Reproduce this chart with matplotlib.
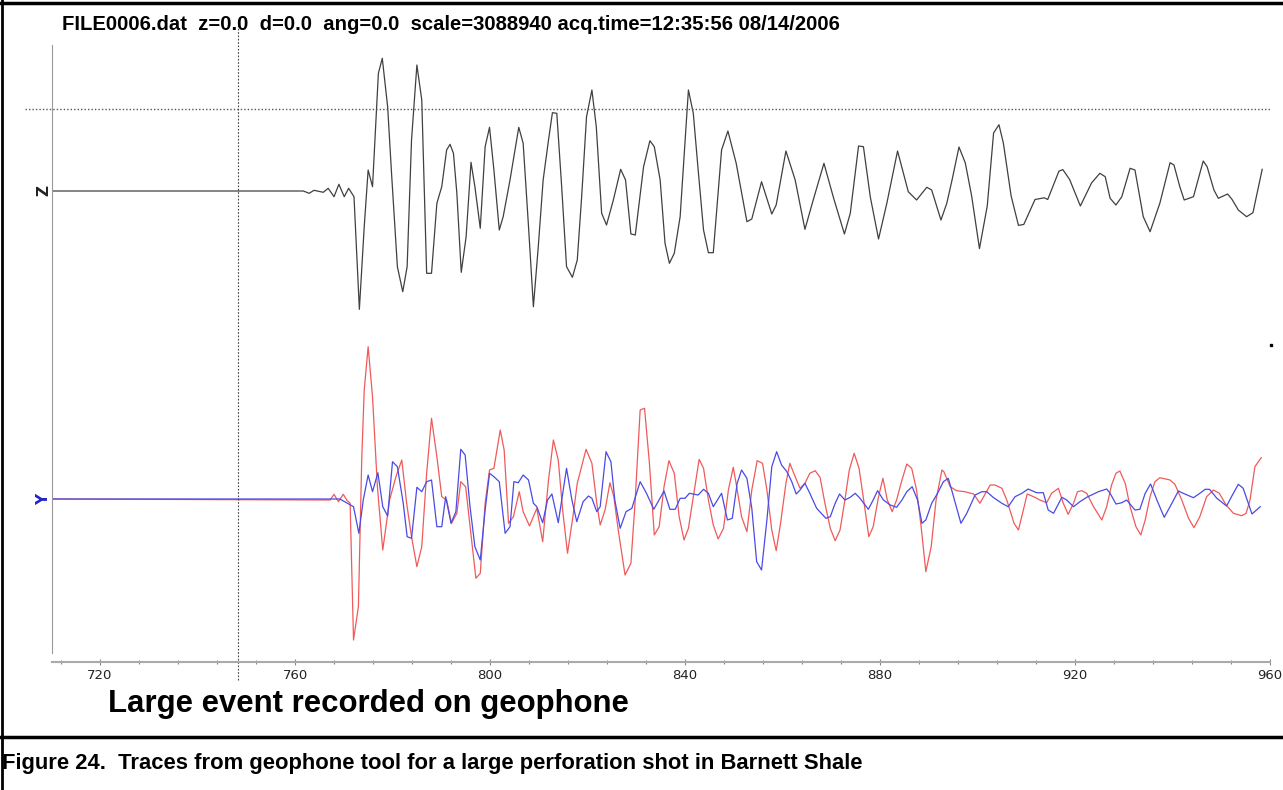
import matplotlib
matplotlib.use('Agg')
import matplotlib.pyplot as plt
from matplotlib.lines import Line2D
from matplotlib.ticker import MultipleLocator

# 读取自图片的道数据 (时间, 振幅)
z_t = [710.2, 761.7, 762.9, 763.9, 765.8, 766.8, 768.0, 769.0, 770.1, 771.0, 772.1, 773.2, 774.2, 775.0, 775.9,
       777.1, 777.9, 779.0, 779.8, 781.0, 782.1, 783.0, 783.9, 785.0, 786.0, 787.0, 788.0, 789.1, 790.1, 791.1,
       791.8, 792.5, 793.2, 794.1, 795.1, 796.1, 796.9, 798.0, 799.0, 799.9, 800.8, 801.9, 802.7, 804.1, 805.9,
       806.8, 807.9, 808.9, 809.9, 810.9, 812.0, 812.8, 813.7, 814.7, 815.7, 816.9, 817.9, 818.8, 819.8, 820.9,
       821.8, 822.9, 823.9, 825.3, 826.8, 827.8, 828.9, 829.8, 831.5, 832.8, 833.7, 834.9, 835.9, 836.8, 837.8,
       839.0, 840.7, 841.7, 842.7, 843.8, 844.8, 845.8, 847.5, 848.8, 850.5, 852.7, 853.7, 855.7, 857.8, 858.7,
       860.7, 862.6, 864.6, 866.3, 868.5, 870.4, 872.7, 873.9, 875.6, 876.6, 878.0, 879.7, 881.4, 883.6, 885.8,
       887.5, 889.6, 890.6, 892.5, 893.7, 894.8, 896.2, 897.5, 898.8, 900.4, 902.0, 903.3, 904.4, 905.3, 906.9,
       908.4, 909.5, 911.8, 913.7, 914.4, 916.7, 917.5, 918.9, 921.1, 923.4, 925.1, 926.2, 927.2, 928.4, 929.6,
       931.3, 932.3, 934.0, 935.4, 937.4, 939.5, 940.3, 941.5, 942.4, 944.3, 946.3, 947.1, 948.5, 949.4, 951.3,
       952.2, 953.5, 955.2, 956.5, 958.4]
z_amp = [0, 0, -2.3, 0.7, -1.3, 2.7, -5.7, 6.7, -5.7, 2.7, -5.7, -118.3, -35.7, 21, 4.3,
         117.7, 132.7, 84.3, 17.7, -75.7, -100.7, -75.7, 51, 126, 91, -82.3, -82.3, -12.3, 4.3, 41,
         46.7, 37.7, -2.3, -81.3, -45.7, 28.7, 4.3, -37.3, 44.3, 63.7, 21, -39, -25.7, 11, 63.7,
         47.7, -35.7, -115.7, -55.7, 11, 51, 78.3, 77.7, 4.3, -75.7, -86.3, -69, -5.7, 74.3, 101,
         64.3, -22.3, -34, -9, 21.7, 11, -43, -44, 24.3, 50.3, 44.3, 11, -52.3, -72.3, -62.3,
         -25.7, 101, 77.7, 21, -39, -61.7, -61.7, 41, 60, 27.7, -30.7, -28, 9.3, -23, -14,
         40, 11, -38.3, -9, 27.7, -5.7, -43, -22.3, 45, 44.3, -5.7, -48, -12.3, 40, -0.7,
         -9, 3.7, 1, -29, -12.3, 11.5, 44, 28, -5, -57.6, -15, 58, 66.3, 48, -5,
         -34.4, -33.4, -8.5, -6.8, -8.5, 19.8, 21.4, 11.5, -15, 8.1, 17.7, 14.3, -7.3, -14, -5.7,
         22.7, 21, -25.7, -40.7, -12.3, 28.3, 26, 4.3, -9, -5.7, 30, 24.3, 1, -7.3, -3,
         -8.3, -19, -25.7, -21.7, 21.7]

x_t = [710.2, 767.2, 768.0, 768.9, 769.9, 770.7, 771.3, 772.0, 773.0, 773.7, 774.2, 775.0, 775.9, 776.9, 778.0,
       779.4, 780.7, 781.9, 782.9, 783.9, 785.0, 786.0, 787.0, 788.0, 789.1, 790.1, 791.1, 792.1, 793.2, 794.0,
       795.0, 796.3, 797.1, 798.0, 799.0, 799.9, 800.8, 802.1, 802.9, 803.8, 804.8, 806.0, 806.8, 808.1, 809.6,
       810.8, 812.0, 813.0, 814.0, 814.9, 815.9, 817.0, 817.9, 819.7, 820.9, 821.9, 822.6, 823.6, 824.6, 825.4,
       826.3, 827.7, 828.9, 829.7, 830.8, 831.7, 832.7, 833.7, 834.7, 835.7, 836.7, 837.8, 838.8, 839.8, 840.7,
       841.7, 842.9, 843.8, 844.8, 845.8, 846.8, 847.9, 848.9, 849.9, 850.6, 851.6, 852.7, 853.7, 854.8, 855.9,
       856.8, 857.8, 858.7, 859.6, 860.7, 861.5, 862.6, 863.6, 864.6, 865.6, 866.7, 867.7, 868.7, 869.8, 870.8,
       871.8, 872.8, 873.7, 874.7, 875.7, 876.7, 877.7, 878.6, 879.7, 880.6, 881.5, 882.5, 883.4, 884.5, 885.5,
       886.5, 887.5, 888.4, 889.4, 890.5, 891.5, 892.7, 893.1, 894.4, 895.7, 897.4, 899.2, 900.5, 902.6, 903.6,
       905.0, 906.0, 907.5, 908.4, 909.4, 910.2, 911.5, 912.8, 914.2, 915.2, 916.6, 917.6, 918.6, 919.7, 920.5,
       921.4, 922.4, 923.8, 925.5, 926.5, 927.5, 928.4, 929.2, 930.3, 931.3, 932.5, 933.5, 934.4, 935.4, 936.4,
       937.4, 939.5, 940.5, 941.9, 943.3, 944.4, 945.6, 947.0, 948.4, 949.6, 951.0, 952.5, 954.2, 955.1, 955.9,
       956.9, 958.2]
x_amp = [0, -1, 4.7, -2.7, 4.7, -1.7, -4, -141, -107.7, 42.3, 109, 152.3, 102.3, 12.3, -51,
         -1, 22.3, 39, -4.3, -37.7, -67.7, -47.7, 25.7, 80.7, 42.3, 2.3, -1, -24.3, -14.3, 17.3,
         12.3, -44.3, -79.3, -74.3, -4.3, 29, 30.7, 69, 49, -24.3, -17.7, 7.3, -12.7, -27, -9.3,
         -42.7, 19, 59, 39, -11, -54.3, -17.7, 15.7, 49.7, 35.7, -4.3, -26, -11, 16.3, 2.3,
         -31, -76, -64.3, -7.7, 89, 90.7, 35.7, -36, -27.7, 12.3, 38.3, 25.7, -17.7, -41, -29.3,
         2.3, 39.7, 30.7, -1, -26, -40, -29.3, 9, 31.7, 12.3, -17.7, -32.7, 9, 38.3, 35.7,
         9, -31, -51.7, -24.3, 15.7, 35.7, 22.3, 10.7, 15.7, 25.7, 28.3, 21.7, -4.3, -29.3, -41.7,
         -31, -1, 29, 45.7, 30.7, -2.7, -37.7, -27.7, 2.3, 20.7, -1, -12.7, -1, 19, 35,
         30.7, 9, -26, -72.7, -47.7, -1, 29, 27.3, 12.3, 8.3, 7.3, 5, -4.3, 14, 14,
         10.7, -1, -24.3, -31, -11, 5, 2.3, -1, -3.7, 5.7, 10.7, -4.3, -15.3, -4.3, 7.3,
         8.3, 5.7, -7.7, -21, -7.7, 14, 25.7, 28, 15.7, -7.7, -27.7, -36, -21, 2.3, 17.3,
         21.3, 19, 14.7, -1, -19.3, -28.7, -17.7, 2.3, 9, 5.7, -6, -14.3, -16.7, -14.3, -1,
         32.3, 41.3]

y_t = [710.2, 769.2, 772.0, 773.1, 774.0, 775.0, 775.9, 777.0, 778.0, 779.0, 780.0, 781.0, 782.2, 783.0, 783.9,
       785.0, 786.0, 787.0, 788.0, 789.1, 790.1, 790.9, 792.0, 793.0, 794.0, 794.9, 795.9, 796.9, 798.0, 799.0,
       799.9, 800.8, 801.9, 803.1, 804.1, 804.9, 805.8, 806.8, 807.9, 808.9, 809.6, 810.8, 811.8, 812.7, 814.0,
       815.7, 816.8, 817.8, 819.1, 820.2, 820.9, 821.9, 822.6, 823.8, 824.8, 825.6, 826.7, 827.9, 829.1, 830.8,
       832.1, 833.6, 835.7, 836.9, 838.0, 839.0, 840.0, 840.9, 842.7, 843.8, 844.8, 845.8, 847.5, 848.7, 849.7,
       850.7, 851.6, 852.7, 853.7, 854.7, 855.7, 856.8, 857.8, 858.8, 859.8, 860.9, 861.9, 862.8, 863.6, 864.6,
       865.6, 867.0, 868.9, 869.8, 870.8, 871.7, 872.8, 873.9, 874.9, 875.9, 877.6, 878.6, 879.5, 880.7, 882.1,
       883.4, 884.5, 885.5, 886.6, 887.7, 888.6, 889.4, 890.6, 891.8, 893.0, 894.0, 894.7, 896.6, 897.8, 899.5,
       900.9, 901.9, 903.2, 905.0, 906.3, 907.7, 909.1, 910.4, 912.1, 913.5, 914.5, 915.6, 917.3, 918.3, 919.7,
       921.0, 922.4, 923.4, 924.8, 926.5, 927.2, 928.4, 929.6, 930.6, 932.3, 933.3, 934.4, 935.5, 936.8, 938.3,
       939.5, 941.2, 942.2, 944.3, 945.6, 946.7, 947.6, 949.1, 951.1, 952.1, 953.5, 954.5, 956.3, 958.0]
y_amp = [0, 0, -7.7, -34.3, -1, 24, 7.3, 26.3, -7.7, -17, 37.3, 32.3, -4.3, -37.7, -39.3,
         11.7, 7.3, 17.3, 19, -27.7, -27.7, 2.3, -24.3, -12.7, 49.7, 44, -7.7, -47.7, -61, -11,
         25.7, 22.3, 17.3, -34.3, -27.7, 17.3, 16.3, 24, 19, -4.3, -7.7, -23.7, -1, 5, -23.7,
         30.7, -1, -22.7, -2.7, 3, 0.7, -12.7, -7.7, 47.3, 37.3, -1, -29.3, -12.7, -9.3, 17.3,
         5.7, -10.3, 8, -10.3, -10.3, 0.7, 0.7, 5.7, 4, 9.7, 5.7, -7.7, 5.7, -21, -19.3,
         15.7, 29, 20.7, -9.3, -62.7, -71, -21, 32.3, 47.3, 34, 27.3, 17.3, 5, 9, 15.7,
         5.7, -9.3, -19.3, -17.7, -4.3, 5, -1, 1.7, 5.7, 0.7, -10.3, -1, 8.3, -1, -6,
         -8.3, -1, 7.3, 12.3, -1, -24.3, -21, -4.3, 5.7, 17.3, 20.7, 9, -24.3, -14.3, 4,
         7.3, 7.3, 1.7, -4.3, -7.7, 2.3, 5.7, 10, 6.3, 6.3, -11, -14.3, 1.7, -1, -7.7,
         -2.7, 1.7, 4, 7.3, 10, 5.7, -5, -3.7, -1, -11, -10.3, 5.7, 15, -1, -18.3,
         -7.7, 8, 5.7, 1.3, 5.7, 9.7, 9.7, 0.7, -7, 2.3, 14.7, 10.7, -15, -7.7]

x_ticks = [720, 760, 800, 840, 880, 920, 960]
pick_time = 748.3      # 竖直虚线 (拾取时间)
z_threshold = 82       # 水平虚线, 相对 Z 道基线

title_text = 'FILE0006.dat  z=0.0  d=0.0  ang=0.0  scale=3088940 acq.time=12:35:56 08/14/2006'
note_text = 'Large event recorded on geophone'
caption_text = 'Figure 24.  Traces from geophone tool for a large perforation shot in Barnett Shale'

W, H = 1283, 790
Z_BASE = 471   # 道基线位置
XY_BASE = 163

fig = plt.figure(figsize=(W / 100, H / 100), dpi=100)
ax = fig.add_axes([52 / W, 1 - 662 / H, 1218 / W, 622 / H])

ax.plot(z_t, [Z_BASE + a for a in z_amp], color='#404040', lw=0.9)
ax.plot(x_t, [XY_BASE + a for a in x_amp], color='#f05a5a', lw=0.9)
ax.plot(y_t, [XY_BASE + a for a in y_amp], color='#4a4ae6', lw=0.9)

# 虚线
ax.axhline(Z_BASE + z_threshold, xmin=-27 / 1218, xmax=1.0, color='#555555', lw=1.0,
           ls=(0, (1, 1.5)), clip_on=False)
ax.plot([pick_time, pick_time], [-18, 642], color='#444444', lw=0.8, ls=(0, (1.5, 1.5)), clip_on=False)
ax.plot([960.3], [317], marker='s', ms=1.5, color='black', clip_on=False)

ax.set_xlim(710.15, 960.0)
ax.set_ylim(0, 622)

for s in ['top', 'right']:
    ax.spines[s].set_visible(False)
ax.spines['left'].set_color('#999999')
ax.spines['left'].set_bounds(9, 617)
ax.spines['bottom'].set_color('#aaaaaa')
ax.spines['bottom'].set_linewidth(1.5)
ax.set_yticks([])
ax.set_xticks(x_ticks)
ax.xaxis.set_minor_locator(MultipleLocator(8))
ax.tick_params(axis='x', which='both', direction='inout', color='#888888', length=4, width=0.8,
               labelsize=9.5, pad=3, labelcolor='#222222')
ax.tick_params(axis='x', which='minor', length=3)

# 道标签
ax.text(710.0, Z_BASE, 'Z', rotation=90, ha='right', va='center', fontsize=11,
        fontweight='bold', color='#222222')
ax.text(710.0, XY_BASE, 'Y', rotation=90, ha='right', va='center', fontsize=11,
        fontweight='bold', color='#2222cc')

fam = ['Liberation Sans', 'DejaVu Sans']
fig.text(62 / W, 1 - 25 / H, title_text, ha='left', va='center', fontsize=14.6,
         fontweight='bold', family=fam)
fig.text(108 / W, 1 - 704 / H, note_text, ha='left', va='center', fontsize=22.4,
         fontweight='bold', family=fam)
fig.text(2 / W, 1 - 763 / H, caption_text, ha='left', va='center', fontsize=15.8,
         fontweight='bold', family=fam)

# 外框
fig.add_artist(Line2D([0, 1], [1 - 3 / H, 1 - 3 / H], color='black', lw=2.5, transform=fig.transFigure))
fig.add_artist(Line2D([2 / W, 2 / W], [0, 1], color='black', lw=2.0, transform=fig.transFigure))
fig.add_artist(Line2D([0, 1], [1 - 737 / H, 1 - 737 / H], color='black', lw=2.5, transform=fig.transFigure))

fig.savefig('out.png', dpi=100)
